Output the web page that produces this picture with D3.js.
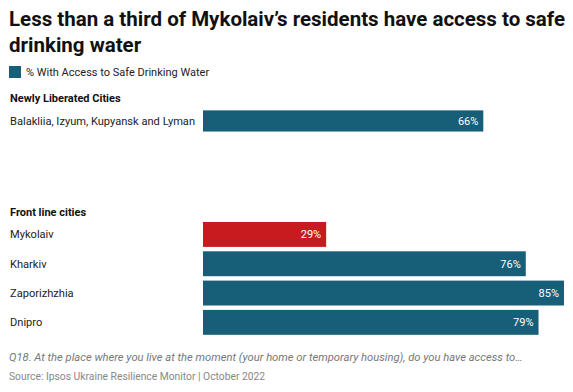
<!DOCTYPE html>
<html>
<head>
<meta charset="utf-8">
<script src="https://cdn.jsdelivr.net/npm/d3@7"></script>
<style>
  html, body { margin: 0; padding: 0; background: #fff; }
  svg { display: block; font-family: Roboto, "Noto Sans", sans-serif; }
</style>
</head>
<body>
<svg id="chart" width="573" height="392"></svg>
<script>
/* ── data ───────────────────────────────────────────── */
const groupNames   = ["Newly Liberated Cities", "Front line cities"];
const newlyCities  = ["Balakliia, Izyum, Kupyansk and Lyman"];
const newlyValues  = [66];
const frontCities  = ["Mykolaiv", "Kharkiv", "Zaporizhzhia", "Dnipro"];
const frontValues  = [29, 76, 85, 79];
const highlighted  = ["Mykolaiv"];

const titleLines = ["Less than a third of Mykolaiv\u2019s residents have access to safe", "drinking water"];
const legendLabel = "% With Access to Safe Drinking Water";
const noteText = "Q18. At the place where you live at the moment (your home or temporary housing), do you have access to\u2026";
const sourceText = "Source: Ipsos Ukraine Resilience Monitor | October 2022";

/* ── layout ─────────────────────────────────────────── */
const TEAL = "#175f78", RED = "#c81b1f";
const barX0 = 203, barX1 = 564;
const step = 29.3, pad = 0.15;

const svg = d3.select("#chart");

const x = d3.scaleLinear().domain([0, d3.max(frontValues.concat(newlyValues))]).range([barX0, barX1]);

// title
svg.append("g").selectAll("text").data(titleLines).join("text")
  .attr("x", 9).attr("y", (d, i) => 26 + i * 26)
  .attr("font-size", "20.5px").attr("font-weight", "bold").attr("fill", "#111")
  .text(d => d);

// legend
svg.append("rect").attr("x", 9).attr("y", 66).attr("width", 12).attr("height", 12).attr("fill", TEAL);
svg.append("text").attr("x", 26).attr("y", 76)
  .attr("font-size", "11px").attr("fill", "#222").text(legendLabel);

const groups = [
  { name: groupNames[0], top: 108.5, cities: newlyCities, values: newlyValues },
  { name: groupNames[1], top: 222, cities: frontCities, values: frontValues }
];

groups.forEach(g => {
  const rows = g.cities.map((c, i) => ({ city: c, value: g.values[i] }));
  const n = g.cities.length;
  const y = d3.scaleBand().domain(g.cities)
    .range([g.top, g.top + step * (n - pad)]).paddingInner(pad).paddingOuter(0);

  const gEl = svg.append("g");

  gEl.append("text").attr("x", 10).attr("y", g.top - 6.5)
    .attr("font-size", "11px").attr("font-weight", "bold").attr("fill", "#111")
    .text(g.name);

  gEl.selectAll("rect").data(rows).join("rect")
    .attr("x", x(0))
    .attr("y", d => y(d.city))
    .attr("width", d => x(d.value) - x(0))
    .attr("height", y.bandwidth())
    .attr("fill", d => highlighted.includes(d.city) ? RED : TEAL);

  gEl.selectAll(".lbl").data(rows).join("text")
    .attr("class", "lbl")
    .attr("x", 10)
    .attr("y", d => y(d.city) + y.bandwidth() / 2 + 4)
    .attr("font-size", "11.1px").attr("fill", "#222")
    .text(d => d.city);

  gEl.selectAll(".val").data(rows).join("text")
    .attr("class", "val")
    .attr("x", d => x(d.value) - 5)
    .attr("y", d => y(d.city) + y.bandwidth() / 2 + 4)
    .attr("text-anchor", "end")
    .attr("font-size", "11px").attr("fill", "#fff")
    .text(d => d.value + "%");
});

// footnotes
svg.append("text").attr("x", 9).attr("y", 361)
  .attr("font-size", "11.2px").attr("font-style", "italic").attr("fill", "#777")
  .text(noteText);
svg.append("text").attr("x", 9).attr("y", 380)
  .attr("font-size", "10.3px").attr("fill", "#888")
  .text(sourceText);
</script>
</body>
</html>
